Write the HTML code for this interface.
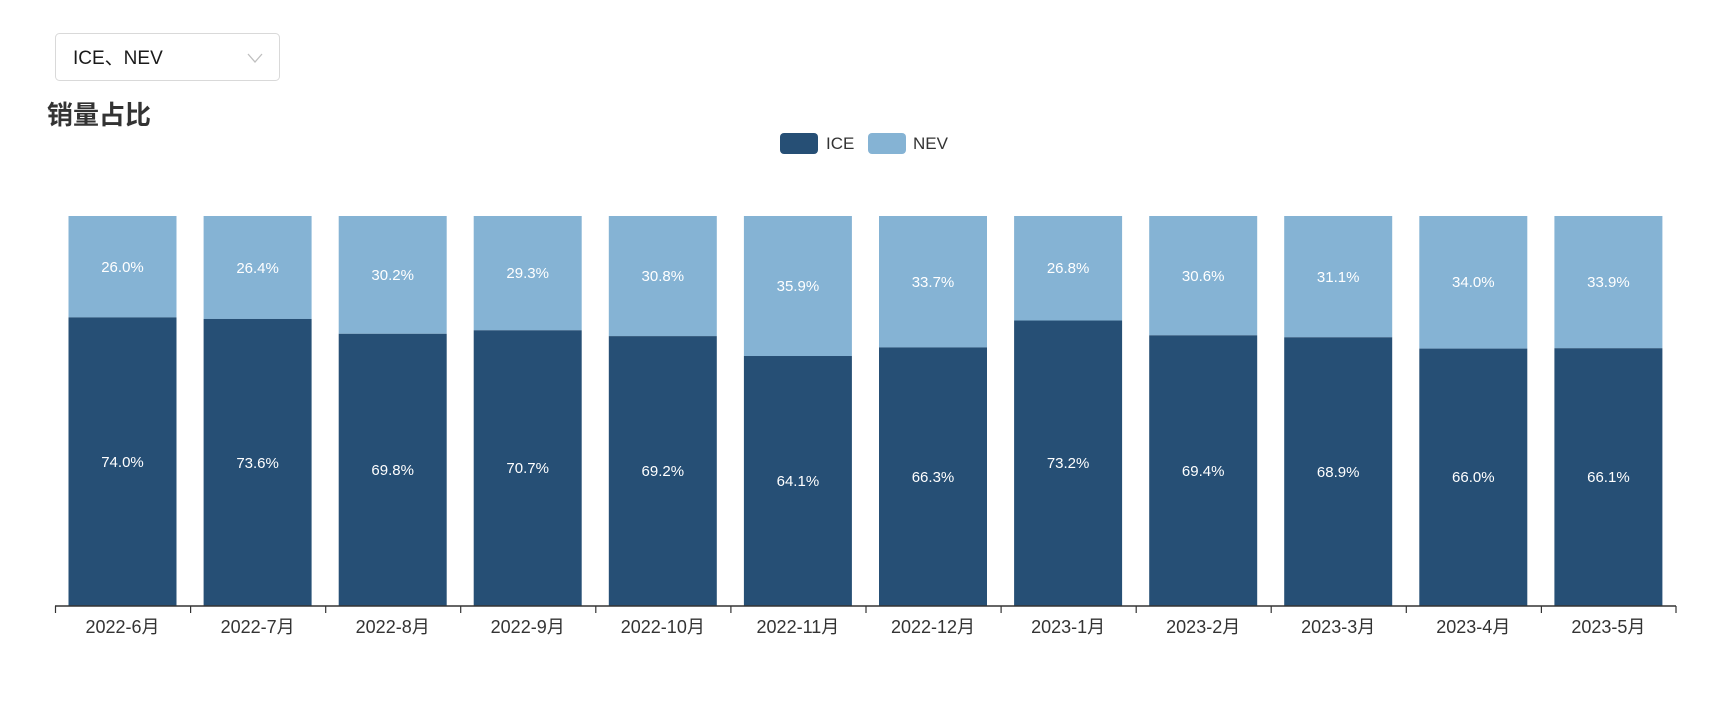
<!DOCTYPE html>
<html><head><meta charset="utf-8"><style>
html,body{margin:0;padding:0;background:#fff;width:1730px;height:721px;overflow:hidden}
svg{display:block}
text{font-family:"Liberation Sans","Noto Sans CJK SC",sans-serif}
</style></head><body>
<svg width="1730" height="721" viewBox="0 0 1730 721" xmlns="http://www.w3.org/2000/svg">
<rect x="55.5" y="33.5" width="224" height="47" rx="4" fill="#fff" stroke="#d9d9d9"/>
<text x="73" y="64" font-size="19" fill="#1a1a1a">ICE、NEV</text>
<polyline points="248,54 255,62 262,54" fill="none" stroke="#bfbfbf" stroke-width="1.3"/>
<text x="47" y="124" font-size="26" font-weight="bold" fill="#333">销量占比</text>
<rect x="780" y="133" width="38" height="21" rx="4" fill="#264f75"/>
<text x="826" y="149" font-size="17" fill="#333">ICE</text>
<rect x="868" y="133" width="38" height="21" rx="4" fill="#85b3d4"/>
<text x="913" y="149" font-size="17" fill="#333">NEV</text>
<g fill="#85b3d4">
<rect x="68.5" y="216" width="108" height="101.4"/>
<rect x="203.6" y="216" width="108" height="102.96"/>
<rect x="338.7" y="216" width="108" height="117.78"/>
<rect x="473.7" y="216" width="108" height="114.27"/>
<rect x="608.8" y="216" width="108" height="120.12"/>
<rect x="743.9" y="216" width="108" height="140.01"/>
<rect x="879.0" y="216" width="108" height="131.43"/>
<rect x="1014.1" y="216" width="108" height="104.52"/>
<rect x="1149.2" y="216" width="108" height="119.34"/>
<rect x="1284.2" y="216" width="108" height="121.29"/>
<rect x="1419.3" y="216" width="108" height="132.6"/>
<rect x="1554.4" y="216" width="108" height="132.21"/>
</g>
<g fill="#264f75">
<rect x="68.5" y="317.4" width="108" height="288.6"/>
<rect x="203.6" y="318.96" width="108" height="287.04"/>
<rect x="338.7" y="333.78" width="108" height="272.22"/>
<rect x="473.7" y="330.27" width="108" height="275.73"/>
<rect x="608.8" y="336.12" width="108" height="269.88"/>
<rect x="743.9" y="356.01" width="108" height="249.99"/>
<rect x="879.0" y="347.43" width="108" height="258.57"/>
<rect x="1014.1" y="320.52" width="108" height="285.48"/>
<rect x="1149.2" y="335.34" width="108" height="270.66"/>
<rect x="1284.2" y="337.29" width="108" height="268.71"/>
<rect x="1419.3" y="348.6" width="108" height="257.4"/>
<rect x="1554.4" y="348.21" width="108" height="257.79"/>
</g>
<g fill="#fff" font-size="15" text-anchor="middle">
<text x="122.5" y="272">26.0%</text>
<text x="257.6" y="273">26.4%</text>
<text x="392.7" y="280">30.2%</text>
<text x="527.7" y="278">29.3%</text>
<text x="662.8" y="281">30.8%</text>
<text x="797.9" y="291">35.9%</text>
<text x="933.0" y="287">33.7%</text>
<text x="1068.1" y="273">26.8%</text>
<text x="1203.2" y="281">30.6%</text>
<text x="1338.2" y="282">31.1%</text>
<text x="1473.3" y="287">34.0%</text>
<text x="1608.4" y="287">33.9%</text>
<text x="122.5" y="467">74.0%</text>
<text x="257.6" y="468">73.6%</text>
<text x="392.7" y="475">69.8%</text>
<text x="527.7" y="473">70.7%</text>
<text x="662.8" y="476">69.2%</text>
<text x="797.9" y="486">64.1%</text>
<text x="933.0" y="482">66.3%</text>
<text x="1068.1" y="468">73.2%</text>
<text x="1203.2" y="476">69.4%</text>
<text x="1338.2" y="477">68.9%</text>
<text x="1473.3" y="482">66.0%</text>
<text x="1608.4" y="482">66.1%</text>
</g>
<line x1="55" y1="606" x2="1676" y2="606" stroke="#333" stroke-width="1.5"/>
<g stroke="#333" stroke-width="1.2">
<line x1="55.5" y1="606" x2="55.5" y2="613"/>
<line x1="190.6" y1="606" x2="190.6" y2="613"/>
<line x1="325.7" y1="606" x2="325.7" y2="613"/>
<line x1="460.7" y1="606" x2="460.7" y2="613"/>
<line x1="595.8" y1="606" x2="595.8" y2="613"/>
<line x1="730.9" y1="606" x2="730.9" y2="613"/>
<line x1="866.0" y1="606" x2="866.0" y2="613"/>
<line x1="1001.1" y1="606" x2="1001.1" y2="613"/>
<line x1="1136.2" y1="606" x2="1136.2" y2="613"/>
<line x1="1271.2" y1="606" x2="1271.2" y2="613"/>
<line x1="1406.3" y1="606" x2="1406.3" y2="613"/>
<line x1="1541.4" y1="606" x2="1541.4" y2="613"/>
<line x1="1676" y1="606" x2="1676" y2="613"/>
</g>
<g fill="#333" font-size="18" text-anchor="middle">
<text x="122.5" y="633">2022-6月</text>
<text x="257.6" y="633">2022-7月</text>
<text x="392.7" y="633">2022-8月</text>
<text x="527.7" y="633">2022-9月</text>
<text x="662.8" y="633">2022-10月</text>
<text x="797.9" y="633">2022-11月</text>
<text x="933.0" y="633">2022-12月</text>
<text x="1068.1" y="633">2023-1月</text>
<text x="1203.2" y="633">2023-2月</text>
<text x="1338.2" y="633">2023-3月</text>
<text x="1473.3" y="633">2023-4月</text>
<text x="1608.4" y="633">2023-5月</text>
</g>
</svg>
</body></html>
